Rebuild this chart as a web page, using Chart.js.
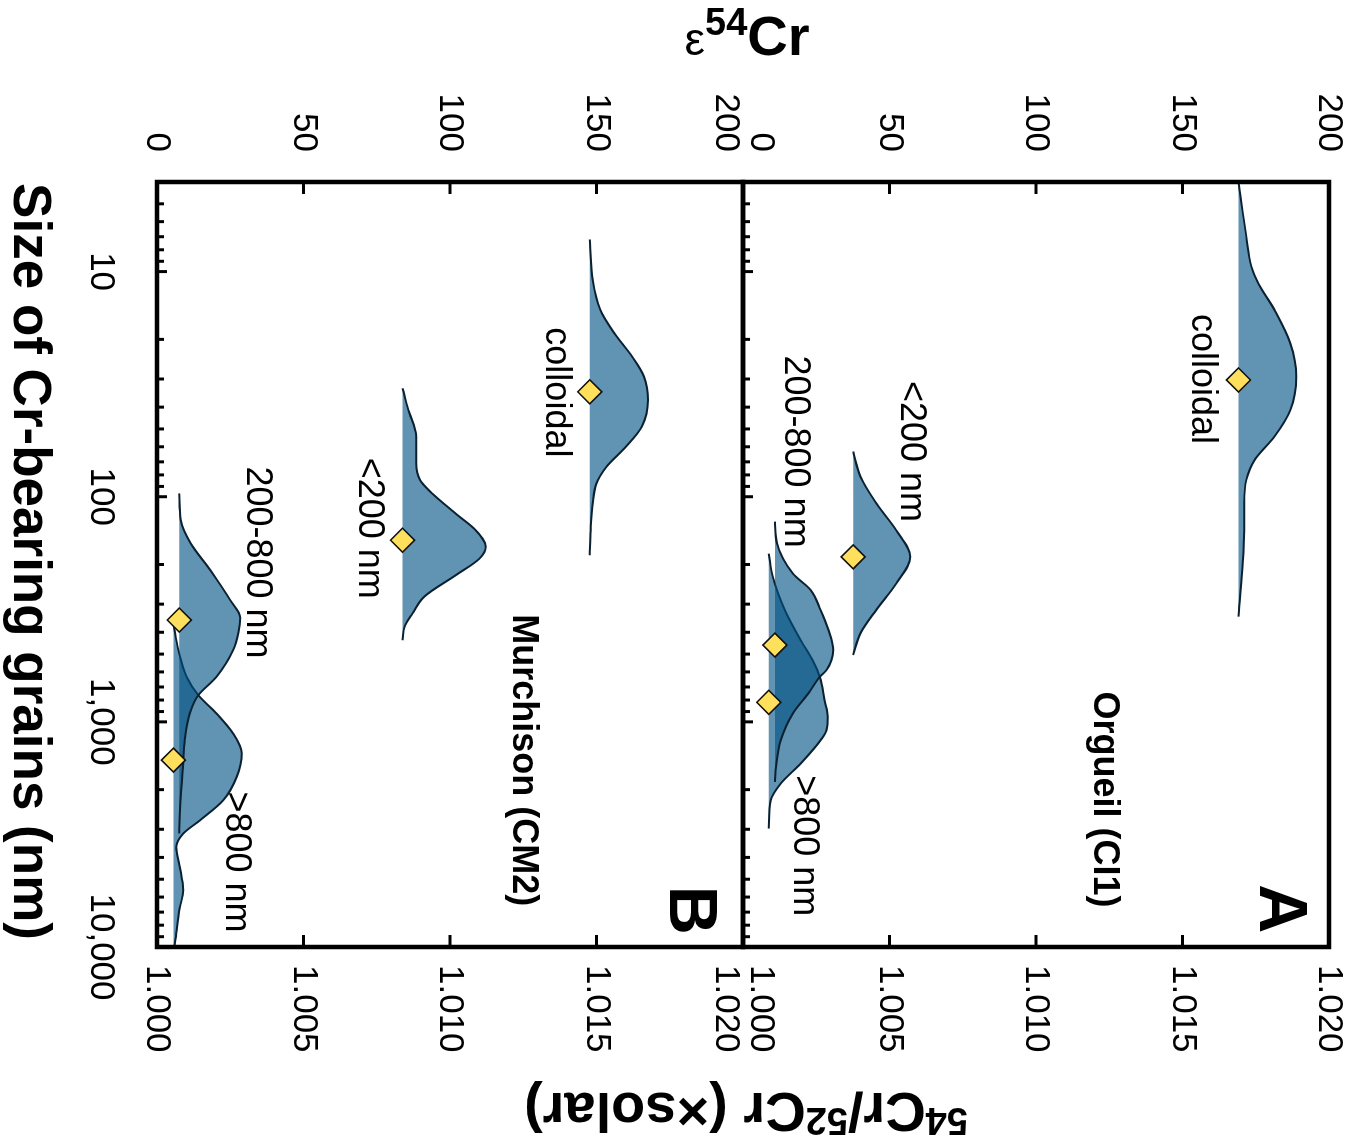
<!DOCTYPE html>
<html>
<head>
<meta charset="utf-8">
<title>54Cr/52Cr vs size of Cr-bearing grains</title>
<script src="https://cdn.jsdelivr.net/npm/chart.js@4.4.1/dist/chart.umd.min.js"></script>
<style>
  html, body { margin: 0; padding: 0; background: #fff; overflow: hidden; }
  /* the figure is laid out upright, then turned a quarter turn clockwise */
  #wrap { position: absolute; left: 0; top: 0; width: 1143px; height: 1352px;
          transform-origin: 0 0; transform: translate(1352px, 0) rotate(90deg); }
  canvas { display: block; }
</style>
</head>
<body>
<div id="wrap"><canvas id="chart" width="1143" height="1352"></canvas></div>
<script>
// axis ticks
const sizeTicks = [10, 100, 1000, 10000];
const sizeTickLabels = ['10', '100', '1,000', '10,000'];
const epsTicks = [0, 50, 100, 150, 200];
const ratioTicks = [1.000, 1.005, 1.010, 1.015, 1.020];

const fractionNames = ['colloidal', '<200 nm', '200-800 nm', '>800 nm'];

// A - Orgueil (CI1): grain size (nm) and eps54Cr outline of each size fraction
const orgColloidalSize = [4, 7.0, 9.5, 11.3, 14.8, 20.8, 29.3, 41.2, 54, 68.7, 84, 107, 141, 212, 341];
const orgColloidalEps  = [169.1, 171.8, 173.5, 175.9, 181.4, 186.8, 188.8, 186.8, 181.4, 174.6, 171.8, 171.1, 171.1, 170.4, 169.1];
const orgLt200Size = [63, 81.5, 107, 141, 185, 243, 318, 404, 505];
const orgLt200Eps  = [37.6, 40.1, 45.5, 52.3, 57.1, 52.3, 45.5, 40.1, 37.6];
const org200to800Size = [129, 161, 219, 260, 319, 391, 480, 589, 631, 745, 918, 1206, 1585, 1849];
const org200to800Eps  = [10.9, 11.6, 17.0, 23.1, 26.5, 29.2, 30.8, 28.5, 26.2, 22.4, 17.0, 12.9, 11.3, 10.9];
const orgGt800Size = [179, 227, 319, 434, 532, 631, 800, 950, 1089, 1206, 1531, 1879, 2229, 2978];
const orgGt800Eps  = [8.8, 10.2, 14.3, 19.7, 23.8, 26.2, 27.8, 28.9, 28.5, 26.5, 19.7, 12.9, 9.5, 8.8];
const orgMeanSize = [30.3, 185, 456, 819];
const orgMeanEps  = [169.1, 37.6, 10.9, 8.8];

// B - Murchison (CM2)
const murColloidalSize = [7.2, 10.9, 14.8, 18.8, 23.9, 29.3, 37.2, 48.8, 59.9, 73.6, 87.2, 107, 141, 182];
const murColloidalEps  = [147.7, 148.7, 151.3, 156.1, 162.2, 166.2, 167.6, 165.5, 160.1, 153.4, 150.0, 148.7, 148.0, 147.7];
const murLt200Size = [33, 41.2, 54.1, 71.1, 84.4, 96.7, 119, 141, 167, 188, 223, 278, 330, 378, 434];
const murLt200Eps  = [83.8, 85.8, 88.5, 88.5, 89.8, 93.9, 102, 108.8, 112.2, 110.1, 102, 91.2, 87.2, 84.5, 83.8];
const mur200to800Size = [96.7, 127, 161, 212, 288, 345, 400, 480, 631, 761, 918, 1206, 1585, 2229, 3133];
const mur200to800Eps  = [7.6, 8.1, 11.5, 18.2, 25.0, 28.4, 27.8, 26.0, 20.3, 14.1, 11.2, 9.5, 8.9, 8.0, 7.6];
const murGt800Size = [366, 480, 631, 761, 918, 1127, 1381, 1754, 2229, 2735, 3133, 3600, 4300, 5600, 6700, 8200, 10000];
const murGt800Eps  = [5.6, 7.3, 10.1, 14.1, 20.3, 26.0, 28.9, 27.2, 22.6, 14.7, 9.0, 6.6, 7.6, 9.0, 7.8, 6.8, 6.0];
const murMeanSize = [34.2, 156, 353, 1479];
const murMeanEps  = [147.7, 83.8, 7.6, 5.6];

const FONT = "'Liberation Sans', Arial, Helvetica, sans-serif";
const fillCol = 'rgba(0, 80, 130, 0.62)';
const edgeCol = '#0b2131';

function dist(name, sizes, eps, base, axis) {
  return {
    type: 'line', label: name, yAxisID: axis, order: 1,
    data: sizes.map((s, i) => ({ x: s, y: eps[i] })),
    borderColor: edgeCol, borderWidth: 2, backgroundColor: fillCol,
    fill: { value: base }, pointRadius: 0, cubicInterpolationMode: 'monotone'
  };
}
function means(sizes, eps, axis) {
  return {
    type: 'scatter', label: 'mean', yAxisID: axis, order: 0,
    data: sizes.map((s, i) => ({ x: s, y: eps[i] })),
    pointStyle: 'rectRot', pointRadius: 12, pointHoverRadius: 12,
    backgroundColor: '#ffe05c', borderColor: '#111', borderWidth: 1.6
  };
}

// text inside the panels, placed in data units (size, eps)
const notes = [
  ['yA', 30, 156.6, fractionNames[0], '36px'],
  ['yA', 63, 57.4, fractionNames[1], '36px'],
  ['yA', 63, 17.6, fractionNames[2], '36px'],
  ['yA', 3550, 20.7, fractionNames[3], '36px'],
  ['yA', 2210, 123.3, 'Orgueil (CI1)', 'bold 36px'],
  ['yA', 6760, 182.7, 'A', 'bold 68px'],
  ['yB', 34.4, 136.1, fractionNames[0], '36px'],
  ['yB', 138, 72.2, fractionNames[1], '36px'],
  ['yB', 196, 34, fractionNames[2], '36px'],
  ['yB', 4190, 27, fractionNames[3], '36px'],
  ['yB', 1480, 125, 'Murchison (CM2)', 'bold 36px'],
  ['yB', 6870, 181.6, 'B', 'bold 68px']
];

function seg(ctx, x1, y1, x2, y2) {
  ctx.beginPath(); ctx.moveTo(x1, y1); ctx.lineTo(x2, y2); ctx.stroke();
}

// panel frames and inward tick marks
const frame = {
  id: 'frame',
  afterDatasetsDraw(chart) {
    const { ctx, scales } = chart;
    const x = scales.x;
    ctx.save();
    ctx.strokeStyle = '#000';
    ctx.lineWidth = 3;
    [['yA', 'rA'], ['yB', 'rB']].forEach(([e, r]) => {
      const ye = scales[e], yr = scales[r];
      epsTicks.slice(1, -1).forEach(v => {
        const p = ye.getPixelForValue(v); seg(ctx, x.left, p, x.left + 12, p);
      });
      ratioTicks.slice(1, -1).forEach(v => {
        const p = yr.getPixelForValue(v); seg(ctx, x.right - 12, p, x.right, p);
      });
      for (let d = 1; d < 10000; d *= 10) {
        for (let m = 1; m < 10; m++) {
          const v = m * d;
          if (v < x.min || v >= x.max) continue;
          const p = x.getPixelForValue(v);
          seg(ctx, p, ye.bottom, p, ye.bottom - (m === 1 ? 10 : 7));
        }
      }
    });
    ctx.lineWidth = 4.5;
    ['yA', 'yB'].forEach(id => {
      const s = scales[id];
      ctx.strokeRect(x.left, s.top, x.right - x.left, s.bottom - s.top);
    });
    ctx.restore();
  }
};

function richText(ctx, parts) {
  let w = 0;
  parts.forEach(p => { ctx.font = p[1]; w += ctx.measureText(p[0]).width; });
  let cx = -w / 2;
  parts.forEach(p => {
    ctx.font = p[1];
    ctx.fillText(p[0], cx, -p[2]);
    cx += ctx.measureText(p[0]).width;
  });
}

// panel labels and the axis titles
const texts = {
  id: 'texts',
  afterDraw(chart) {
    const { ctx, scales } = chart;
    const x = scales.x;
    ctx.save();
    ctx.fillStyle = '#000';
    ctx.textAlign = 'center';
    ctx.textBaseline = 'middle';
    notes.forEach(([axis, s, e, t, f]) => {
      ctx.font = f + ' ' + FONT;
      ctx.fillText(t, x.getPixelForValue(s), scales[axis].getPixelForValue(e));
    });

    ctx.textAlign = 'left';
    ctx.textBaseline = 'alphabetic';
    // bottom (grain size)
    ctx.save();
    ctx.translate((x.left + x.right) / 2 - 3, 1338);
    richText(ctx, [['Size of Cr-bearing grains (nm)', 'bold 53px ' + FONT, 0]]);
    ctx.restore();
    // left (eps54Cr), reads upward
    ctx.save();
    ctx.translate(55, 605);
    ctx.rotate(-Math.PI / 2);
    richText(ctx, [['\u03b5', '46px ' + FONT, 0], ['54', 'bold 38px ' + FONT, 20], ['Cr', 'bold 56px ' + FONT, 0]]);
    ctx.restore();
    // right (ratio), reads downward
    ctx.save();
    ctx.translate(1093, 606);
    ctx.rotate(Math.PI / 2);
    const big = 'bold 56px ' + FONT, sup = 'bold 38px ' + FONT;
    richText(ctx, [['54', sup, 15], ['Cr/', big, 0], ['52', sup, 15], ['Cr (\u00d7solar)', big, 0]]);
    ctx.restore();
    ctx.restore();
  }
};

const tickFont = { family: FONT, size: 35, lineHeight: 1.0 };
const noGrid = { display: false, drawTicks: false };
const noBorder = { display: false };

function vAxis(pos, stack, min, max, values, fmt, width, pad) {
  return {
    type: 'linear', position: pos, stack: stack, stackWeight: 1, min: min, max: max,
    grid: noGrid, border: noBorder,
    afterBuildTicks: s => { s.ticks = values.map(v => ({ value: v })); },
    afterFit: s => { s.width = width; s.paddingTop = 0; s.paddingBottom = 0; },
    ticks: { autoSkip: false, padding: pad, color: '#000', font: tickFont, callback: fmt }
  };
}

new Chart(document.getElementById('chart'), {
  data: {
    datasets: [
      means(orgMeanSize, orgMeanEps, 'yA'),
      means(murMeanSize, murMeanEps, 'yB'),
      dist(fractionNames[0], orgColloidalSize, orgColloidalEps, orgMeanEps[0], 'yA'),
      dist(fractionNames[1], orgLt200Size, orgLt200Eps, orgMeanEps[1], 'yA'),
      dist(fractionNames[2], org200to800Size, org200to800Eps, orgMeanEps[2], 'yA'),
      dist(fractionNames[3], orgGt800Size, orgGt800Eps, orgMeanEps[3], 'yA'),
      dist(fractionNames[0], murColloidalSize, murColloidalEps, murMeanEps[0], 'yB'),
      dist(fractionNames[1], murLt200Size, murLt200Eps, murMeanEps[1], 'yB'),
      dist(fractionNames[2], mur200to800Size, mur200to800Eps, murMeanEps[2], 'yB'),
      dist(fractionNames[3], murGt800Size, murGt800Eps, murMeanEps[3], 'yB')
    ]
  },
  options: {
    responsive: false,
    animation: false,
    events: [],
    layout: { padding: { top: 23, left: 0, right: 0, bottom: 0 } },
    plugins: { legend: { display: false }, tooltip: { enabled: false } },
    scales: {
      x: {
        type: 'logarithmic', position: 'bottom', min: 4, max: 10000,
        grid: noGrid, border: noBorder,
        afterBuildTicks: s => { s.ticks = sizeTicks.map(v => ({ value: v })); },
        afterFit: s => { s.height = 157; s.paddingLeft = 0; s.paddingRight = 0; },
        ticks: { autoSkip: false, maxRotation: 0, padding: 39, color: '#000', font: tickFont,
                 callback: (v, i) => sizeTickLabels[i] }
      },
      // the left stack is laid out in reverse order, so B comes first there
      yB: vAxis('left', 'eps', 0, 200, epsTicks,
                (v, i) => i === epsTicks.length - 1 ? ['', String(v)] : String(v), 182, 30),
      yA: vAxis('left', 'eps', 0, 200, epsTicks,
                (v, i) => i === 0 ? [String(v), ''] : String(v), 182, 30),
      rA: vAxis('right', 'ratio', 1.000, 1.020, ratioTicks,
                (v, i) => i === 0 ? [v.toFixed(3), ''] : v.toFixed(3), 196, 18),
      rB: vAxis('right', 'ratio', 1.000, 1.020, ratioTicks,
                (v, i) => i === ratioTicks.length - 1 ? ['', v.toFixed(3)] : v.toFixed(3), 196, 18)
    }
  },
  plugins: [frame, texts]
});
</script>
</body>
</html>
